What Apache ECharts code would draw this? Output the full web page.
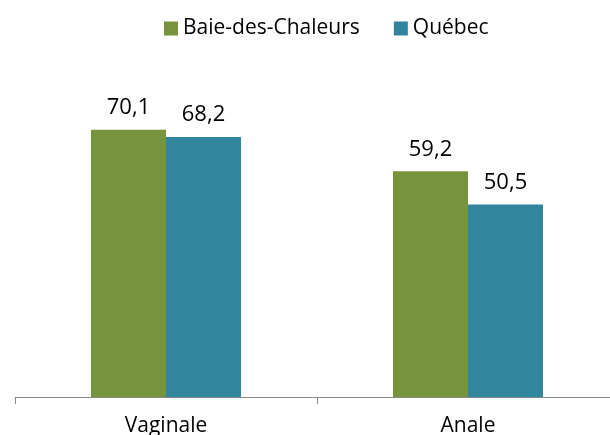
<!DOCTYPE html>
<html>
<head>
<meta charset="utf-8">
<script src="https://cdn.jsdelivr.net/npm/echarts@6/dist/echarts.min.js"></script>
<style>
  html, body { margin: 0; padding: 0; background: #fff; }
  #chart { width: 610px; height: 435px; }
</style>
</head>
<body>
<div id="chart"></div>
<script>
var categories = ['Vaginale', 'Anale'];
var seriesNames = ['Baie-des-Chaleurs', 'Québec'];
var baieValues = [70.1, 59.2];
var quebecValues = [68.2, 50.5];

var chart = echarts.init(document.getElementById('chart'));

function fmt(p) {
  return String(p.value).replace('.', ',');
}

var font = 'Open Sans, sans-serif';

var option = {
  backgroundColor: '#ffffff',
  color: ['#77933C', '#31859C'],
  animation: false,
  legend: {
    top: 13,
    left: 159,
    itemWidth: 14,
    itemHeight: 14,
    itemGap: 34,
    icon: 'rect',
    textStyle: { fontFamily: font, fontSize: 21, color: '#000' },
    data: seriesNames
  },
  grid: { left: 15, width: 604, top: 92, bottom: 38, outerBoundsMode: 'none', containLabel: false },
  xAxis: {
    type: 'category',
    data: categories,
    axisLine: { lineStyle: { color: '#888888', width: 1 } },
    axisTick: { show: true, interval: 0, length: 7, lineStyle: { color: '#888888' } },
    axisLabel: { fontFamily: font, fontSize: 21, color: '#000', margin: 19 }
  },
  yAxis: {
    type: 'value',
    min: 0,
    max: 80,
    show: false
  },
  series: [{
    name: seriesNames[0],
    type: 'bar',
    data: baieValues,
    barWidth: 75,
    barGap: '0%',
    label: { show: true, position: 'top', distance: 11, formatter: fmt,
             fontFamily: font, fontSize: 22, color: '#000' }
  }, {
    name: seriesNames[1],
    type: 'bar',
    data: quebecValues,
    barWidth: 75,
    label: { show: true, position: 'top', distance: 11, formatter: fmt,
             fontFamily: font, fontSize: 22, color: '#000' }
  }]
};

chart.setOption(option);
</script>
</body>
</html>
